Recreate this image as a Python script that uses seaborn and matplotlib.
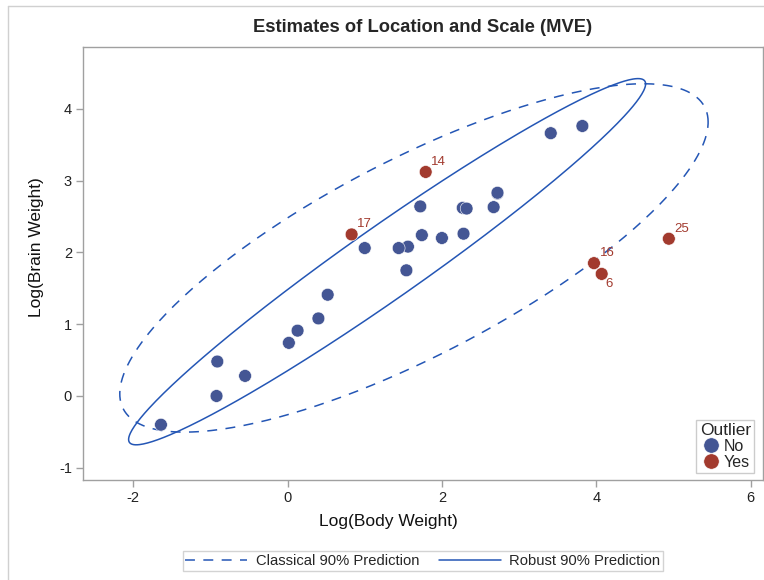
import numpy as np
import pandas as pd
import matplotlib
matplotlib.use('Agg')
import matplotlib.pyplot as plt
from matplotlib.lines import Line2D
import seaborn as sns

# log10 body / brain weight (brains data), 28 animals
log_body = [0.13, 2.67, 1.56, 1.44, 0.017, 4.07, 3.41, 2.27, 2.72, 1.00,
            0.52, 2.72, 2.32, 1.79, 3.82, 3.97, 0.83, 1.54, -0.92, -1.64,
            0.40, 1.74, 2.00, 1.72, 4.94, -0.55, -0.91, 2.28]
log_brain = [0.91, 2.63, 2.08, 2.06, 0.74, 1.70, 3.66, 2.62, 2.82, 2.06,
             1.41, 2.83, 2.61, 3.12, 3.76, 1.85, 2.25, 1.75, 0.00, -0.40,
             1.08, 2.24, 2.20, 2.64, 2.19, 0.28, 0.48, 2.26]
outlier_obs = [6, 14, 16, 17, 25]

mve_center = [1.29, 1.87]
mve_cov = [[2.07, 1.53],
           [1.53, 1.20]]

df = pd.DataFrame({'obs': range(1, 29), 'x': log_body, 'y': log_brain})
df['Outlier'] = np.where(df['obs'].isin(outlier_obs), 'Yes', 'No')

n = len(df)
# 90% prediction ellipse radius (F quantile, df1=2)
f90 = (n - 2) / 2 * (0.1 ** (-2 / (n - 2)) - 1)
crad = np.sqrt(2 * (n - 1) * (n + 1) / (n * (n - 2)) * f90)


def ellipse(center, cov):
    t = np.linspace(0, 2 * np.pi, 400)
    L = np.linalg.cholesky(np.array(cov))
    pts = (L @ np.vstack([np.cos(t), np.sin(t)])) * crad
    return pts[0] + center[0], pts[1] + center[1]


cls_center = [df['x'].mean(), df['y'].mean()]
cls_cov = np.cov(df['x'], df['y'])

sns.set_style('ticks')
plt.rcParams['font.family'] = ['Liberation Sans', 'DejaVu Sans']
plt.rcParams['axes.unicode_minus'] = False

blue = '#445694'
red = '#A23A2E'
line_col = '#2456B5'
gray = '#a0a0a0'
dash = (0, (6.5, 5.5))

fig = plt.figure(figsize=(7.64, 5.80), dpi=100)
ax = fig.add_axes([83 / 764, 1 - 480 / 580, 680 / 764, 433 / 580])

ex, ey = ellipse(cls_center, cls_cov)
ax.plot(ex, ey, color=line_col, lw=1.1, linestyle=dash)
ex, ey = ellipse(mve_center, mve_cov)
ax.plot(ex, ey, color=line_col, lw=1.1)

sns.scatterplot(data=df, x='x', y='y', hue='Outlier', hue_order=['No', 'Yes'],
                palette={'No': blue, 'Yes': red}, s=85, edgecolor='white',
                linewidth=0.4, ax=ax, zorder=3)

for _, r in df[df['Outlier'] == 'Yes'].iterrows():
    if r['obs'] == 6:
        ax.annotate(str(r['obs']), (r['x'], r['y']), xytext=(3, -3),
                    textcoords='offset points', ha='left', va='top',
                    color=red, fontsize=9.5)
    else:
        ax.annotate(str(r['obs']), (r['x'], r['y']), xytext=(4, 3),
                    textcoords='offset points', ha='left', va='bottom',
                    color=red, fontsize=9.5)

ax.set_xlim(-2.65, 6.16)
ax.set_ylim(-1.17, 4.86)
ax.set_xticks([-2, 0, 2, 4, 6])
ax.set_yticks([-1, 0, 1, 2, 3, 4])
ax.set_xlabel('Log(Body Weight)', fontsize=12.5, color='#111111')
ax.set_ylabel('Log(Brain Weight)', fontsize=12.5, color='#111111')
ax.xaxis.set_label_coords((388 - 83) / 680, -(514 - 480) / 433)
ax.yaxis.set_label_coords(-(83 - 44) / 680, (480 - 247) / 433)
ax.tick_params(labelsize=10.5, color=gray, length=5, width=1, pad=3,
               labelcolor='#222222')
for sp in ax.spines.values():
    sp.set_visible(True)
    sp.set_color(gray)
    sp.set_linewidth(1)

leg = ax.legend(title='Outlier', loc='lower right', fontsize=11.5,
                title_fontsize=12.5, frameon=True, fancybox=False,
                borderaxespad=0, handletextpad=0.1, borderpad=0.2,
                labelspacing=0.05, handlelength=1.3, markerscale=1.2,
                bbox_to_anchor=((754 - 83) / 680, (480 - 473) / 433))
leg.get_frame().set_edgecolor('#c0c0c0')
leg.get_frame().set_linewidth(1)

handles = [Line2D([], [], color=line_col, lw=1.1, linestyle=dash),
           Line2D([], [], color=line_col, lw=1.1)]
fl = fig.legend(handles, ['Classical 90% Prediction', 'Robust 90% Prediction'],
                loc='center', bbox_to_anchor=(423 / 764, 1 - 561 / 580),
                ncol=2, fontsize=10.6, frameon=True, fancybox=False,
                handlelength=4.2, columnspacing=1.3, borderpad=0.2,
                handletextpad=0.6)
fl.get_frame().set_edgecolor('#c8c8c8')
fl.get_frame().set_linewidth(1)

fig.suptitle('Estimates of Location and Scale (MVE)', x=423 / 764,
             y=1 - 28 / 580, va='center', fontsize=13.2, fontweight='bold')

# outer graph frame
fig.add_artist(Line2D([8 / 764, 8 / 764], [0, 1 - 6 / 580],
                      transform=fig.transFigure, color='#d0d0d0', lw=1))
fig.add_artist(Line2D([8 / 764, 1], [1 - 6 / 580, 1 - 6 / 580],
                      transform=fig.transFigure, color='#d0d0d0', lw=1))

fig.savefig('out.png', dpi=100)
